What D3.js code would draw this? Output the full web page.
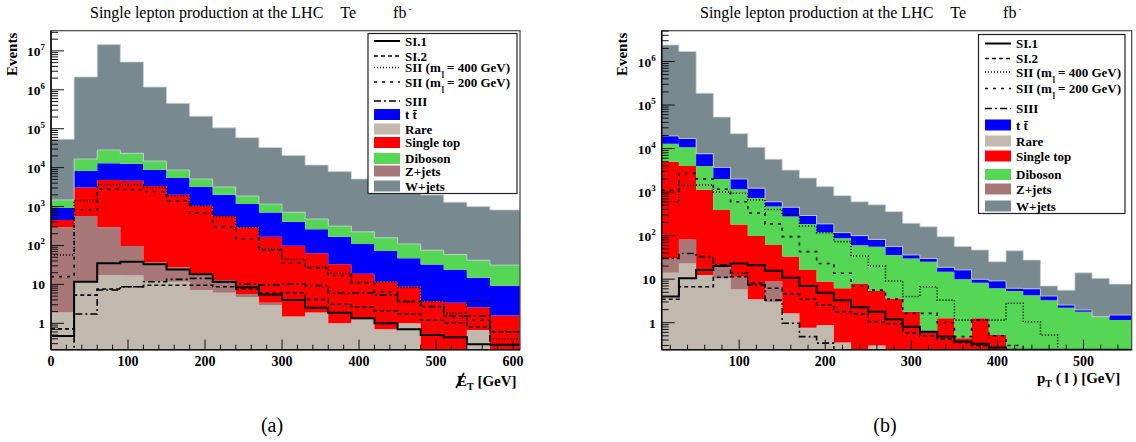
<!DOCTYPE html>
<html><head><meta charset="utf-8">
<script src="https://cdn.jsdelivr.net/npm/d3@7"></script>
<style>
body{margin:0;background:#fff}
svg{display:block}
text{font-family:"Liberation Serif","DejaVu Serif",serif;fill:#000}
</style></head>
<body><svg id="c" width="1136" height="442"></svg>
<script>
// ---------------- DATA ----------------
const titleText = "Single lepton production at the LHC";
const processKeys = ["ttbar","rare","singletop","diboson","zjets","wjets"];
const processLabels = ["t t\u0304","Rare","Single top","Diboson","Z+jets","W+jets"];
const signalKeys = ["SI1","SI2","SII400","SII200","SIII"];

// Panel (a): missing transverse energy
const metEdges = [0,30,60,90,120,150,180,210,240,270,300,330,360,390,420,450,480,510,540,570,609];
const metTicks = [0,100,200,300,400,500,600];
const metRare      = [1.9,11.7,17.5,17,11.7,11.7,7.2,6.1,4.7,2.9,1.5,1.9,1.0,1.27,0.7,1.0,0,0,0.67,0];
const metZjets     = [293,563,278,80,26,16,11.3,6.9,1.0,0.5,0,0,0,0,0,0,0,0,0,0];
const metSingleTop = [155,2525,4505,4503,3362,1973,1031,562,289,165,97.5,61,32,17.5,11,7.7,3.7,3.4,1.9,1.6];
const metTtbar     = [470,5100,8100,7900,5300,3400,2150,1425,875,537,311,197,135,91,60,38,29,20,12.3,7.7];
const metDiboson   = [560,8500,15600,10900,6100,3300,1900,1200,700,455,305,220,147,114,87,63,43,35,27,22];
const metWjets     = [52500,2130000,14470000,5180000,1165000,441000,205000,102000,57000,31800,19700,11200,7600,4900,3440,2490,1920,1240,958,790];
const metSI1    = [0.47,11.7,35,38,33,24,18.2,11.7,8.4,5.5,4.0,2.5,1.87,1.34,1.0,0.70,0.50,0.44,0.29,0.28];
const metSI2    = [0.72,5.3,7.6,8.7,9.5,9.5,9.5,8.7,7.6,5.9,6.1,4.1,3.1,2.6,2.1,1.73,1.2,1.03,0.82,0.61];
const metSII400 = [57,1420,3600,3600,3100,1900,1050,550,295,82,44,28.5,19.2,11.7,11.7,8.4,3.7,1.8,3.7,0.4];
const metSII200 = [15.8,815,2800,2700,2400,1400,680,300,147,76,35,26,16.7,10.7,6.5,3.6,2.7,1.5,1.2,0.6];
const metSIII   = [0,1.73,7.2,8.7,11.7,13.5,14.3,11.7,10.2,9.6,10.2,9.3,5.9,6.1,5.3,3.6,2.7,1.54,1.54,0.28];

// Panel (b): lepton pT
const ptEdges = [10,30,50,70,90,110,130,150,170,190,210,230,250,270,290,310,330,350,370,390,410,430,450,470,490,510,530,556];
const ptTicks = [100,200,300,400,500];
const ptRare      = [14,23,12.5,10.5,5.8,3.45,3.0,1.64,0.77,0.89,0.35,0,0.3,0,0,0,0,0,0,0,0,0,0,0,0,0,0];
const ptZjets     = [16,59,0,10.5,5.6,0,5.8,0,0,0,0,0,0,0,0,0,0,0,0,0,0,0,0,0,0,0,0];
const ptSingleTop = [4970,3918,1117,369,169,94.5,52,31.4,15.5,7.9,5.85,8.0,5.05,3.6,1.79,0.62,1.26,0.44,1.26,0.52,0,0,0,0,0,0,0];
const ptDiboson   = [7900,6700,2870,1610,980,632,404,242,170,111,81,52,50.6,32.4,28.2,24.4,13.6,9.56,7.0,5.7,5.35,4.3,3.3,2.2,1.79,1.37,1.15];
const ptTtbar     = [6600,6300,3600,1700,840,500,135,175,104,66,30,40,26,20,6,5,3.9,6.3,1.7,2.9,0.85,1.7,0.8,0.35,0.17,0,0.35];
const ptWjets     = [2380000,1683000,179400,49300,20000,9470,5100,2750,1810,1154,713,500,428,299,157,130,76,40,37,16,38.8,21.6,2.9,3.05,12,9.1,6.2];
const ptSI1    = [4.0,10.5,16.3,20,23,21,15.7,10.8,7.0,4.9,3.3,2.26,1.79,1.2,0.81,0.62,0.48,0.37,0.33,0.27,0,0,0,0,0,0,0];
const ptSI2    = [3.45,6.7,6.7,11.0,11.4,8.0,6.2,4.6,3.45,2.55,1.79,1.6,1.05,0.95,0.59,0.5,0.42,0.35,0.3,0,0,0,0,0,0,0,0];
const ptSII400 = [600,1450,1450,1000,940,660,400,300,166,117,73,34,20,9.1,4.0,6.7,3.3,1.15,1.15,1.15,2.8,1.05,0.52,0,0,0,0];
const ptSII200 = [1100,2700,2000,1160,600,330,186,95,43,23,13.7,7.0,5.6,3.5,1.64,1.64,1.0,0.48,1.15,0.5,0.3,0,0,0,0,0,0];
const ptSIII   = [30,39,33,21,13.7,7.4,3.3,0.97,0.48,0.34,0,0,0,0,0,0,0,0,0,0,0,0,0,0,0,0,0];

// ---------------- STYLE ----------------
const fillColor = {ttbar:"#0000ff",rare:"#c1b8ae",singletop:"#ff0000",diboson:"#55d655",zjets:"#a87878",wjets:"#788a90"};
const lineStyle = {
  SI1:{w:2,dash:null}, SI2:{w:1.6,dash:"4,3"}, SII400:{w:1.6,dash:"1,2"},
  SII200:{w:1.6,dash:"3,5"}, SIII:{w:1.6,dash:"7,3,2,3"}
};
const svg = d3.select("#c");

function supLabel(g, x, y, base, exp) {
  const t = g.append("text").attr("x", x).attr("y", y).attr("text-anchor", "end")
    .attr("font-weight","bold").attr("font-size",13.5);
  t.append("tspan").text(base);
  if (exp) t.append("tspan").attr("dy",-6).attr("font-size",9).text(exp);
}

function drawPanel(cfg) {
  const g = svg.append("g");
  const x = d3.scaleLinear().domain(cfg.xDomain).range([cfg.L, cfg.R]);
  const y = d3.scaleLog().domain(cfg.yDomain).range([cfg.B, cfg.T]).clamp(true);
  const lo = cfg.yDomain[0];
  const nb = cfg.edges.length - 1;
  const clipId = "clip" + cfg.id;
  svg.append("clipPath").attr("id", clipId).append("rect")
    .attr("x", cfg.L).attr("y", cfg.T).attr("width", cfg.R - cfg.L).attr("height", cfg.B - cfg.T);
  const plot = g.append("g").attr("clip-path", `url(#${clipId})`);

  // stacked backgrounds
  const rows = d3.range(nb).map(i => {
    const o = {i};
    cfg.order.forEach(k => o[k] = cfg.bg[k][i]);
    return o;
  });
  const layers = d3.stack().keys(cfg.order)(rows);
  const area = d3.area().x(p => x(p.x)).y0(p => y(Math.max(p.y0, lo))).y1(p => y(Math.max(p.y1, lo)));
  layers.forEach(layer => {
    const pts = [];
    layer.forEach(d => {
      pts.push({x: cfg.edges[d.data.i], y0: d[0], y1: d[1]});
      pts.push({x: cfg.edges[d.data.i + 1], y0: d[0], y1: d[1]});
    });
    plot.append("path").attr("d", area(pts)).attr("fill", fillColor[layer.key])
      .attr("stroke", layer.key === "wjets" ? "#c9d2d6" : "none").attr("stroke-width", 0.8);
  });

  // signal lines
  const line = d3.line().x(p => x(p.x)).y(p => y(Math.max(p.v, lo * 0.5)));
  signalKeys.forEach(k => {
    const vals = cfg.sig[k];
    const pts = [];
    vals.forEach((v, i) => { pts.push({x: cfg.edges[i], v}); pts.push({x: cfg.edges[i + 1], v}); });
    plot.append("path").attr("d", line(pts)).attr("fill", "none").attr("stroke", "#000")
      .attr("stroke-width", lineStyle[k].w).attr("stroke-dasharray", lineStyle[k].dash);
  });

  // frame
  g.append("rect").attr("x", cfg.L).attr("y", cfg.T).attr("width", cfg.R - cfg.L).attr("height", cfg.B - cfg.T)
    .attr("fill", "none").attr("stroke", "#444").attr("stroke-width", 1.2);
  g.append("line").attr("x1", cfg.L).attr("x2", cfg.L).attr("y1", cfg.T).attr("y2", cfg.B).attr("stroke", "#111").attr("stroke-width", 1.6);
  g.append("line").attr("x1", cfg.L).attr("x2", cfg.R).attr("y1", cfg.B).attr("y2", cfg.B).attr("stroke", "#111").attr("stroke-width", 1.6);

  // y ticks (log)
  const dmin = Math.floor(Math.log10(cfg.yDomain[0])), dmax = Math.ceil(Math.log10(cfg.yDomain[1]));
  for (let e = dmin; e <= dmax; e++) {
    for (let m = 1; m <= 9; m++) {
      const v = m * Math.pow(10, e);
      if (v < cfg.yDomain[0] || v > cfg.yDomain[1]) continue;
      const yy = y(v);
      g.append("line").attr("x1", cfg.L).attr("x2", cfg.L + (m === 1 ? 13 : 7)).attr("y1", yy).attr("y2", yy)
        .attr("stroke", "#111").attr("stroke-width", 1);
      if (m === 1) {
        if (e === 0) supLabel(g, cfg.L - 6, yy + 5, "1", null);
        else if (e === 1) supLabel(g, cfg.L - 6, yy + 5, "10", null);
        else supLabel(g, cfg.L - 6, yy + 5, "10", String(e));
      }
    }
  }
  // x ticks
  const xs = d3.range(Math.ceil(cfg.xDomain[0] / 20) * 20, cfg.xDomain[1] + 0.1, 20);
  xs.forEach(v => {
    const major = v % 100 === 0;
    const xx = x(v);
    g.append("line").attr("x1", xx).attr("x2", xx).attr("y1", cfg.B).attr("y2", cfg.B - (major ? 10 : 5))
      .attr("stroke", "#111").attr("stroke-width", 1);
  });
  cfg.ticks.forEach(v => {
    g.append("text").attr("x", x(v)).attr("y", cfg.B + 16).attr("text-anchor", "middle")
      .attr("font-weight", "bold").attr("font-size", 14).text(v);
  });

  // y label
  g.append("text").attr("transform", `translate(${cfg.yLabX},${cfg.T + 2}) rotate(-90)`)
    .attr("text-anchor", "end").attr("font-weight", "bold").attr("font-size", 15).text("Events");

  // title
  const tt = g.append("text").attr("x", cfg.titleX).attr("y", 18).attr("font-size", 16);
  tt.append("tspan").text(titleText);
  tt.append("tspan").attr("dx", 17).text("Te");
  tt.append("tspan").attr("dx", 37).text("fb");
  tt.append("tspan").attr("dy", -6).attr("dx", 2).attr("font-size", 9).text("-");

  // legend
  const lg = cfg.legend;
  g.append("rect").attr("x", lg.x0).attr("y", lg.y0).attr("width", lg.x1 - lg.x0).attr("height", lg.y1 - lg.y0)
    .attr("fill", "#fff").attr("stroke", "#222").attr("stroke-width", 1.2);
  const sigLabels = [
    {k:"SI1", main:"SI.1"},
    {k:"SI2", main:"SI.2"},
    {k:"SII400", main:"SII (m", rest:"= 400 GeV)"},
    {k:"SII200", main:"SII (m", rest:"= 200 GeV)"},
    {k:"SIII", main:"SIII"}
  ];
  sigLabels.forEach((s, i) => {
    const yy = lg.rows[i];
    g.append("line").attr("x1", lg.sx0).attr("x2", lg.sx1).attr("y1", yy).attr("y2", yy)
      .attr("stroke", "#000").attr("stroke-width", lineStyle[s.k].w).attr("stroke-dasharray", lineStyle[s.k].dash);
    const t = g.append("text").attr("x", lg.tx).attr("y", yy + 4.5).attr("font-weight", "bold").attr("font-size", 13);
    t.append("tspan").text(s.main);
    if (s.rest) {
      t.append("tspan").attr("dx", 1).attr("dy", 6).attr("font-size", 8).text("l\u0304");
      t.append("tspan").attr("dx", 3).attr("dy", -6).text(s.rest);
    }
  });
  processKeys.forEach((k, i) => {
    const yy = lg.rows[5 + i];
    g.append("rect").attr("x", lg.sx0).attr("y", yy - 5.5).attr("width", lg.sx1 - lg.sx0).attr("height", 11)
      .attr("fill", fillColor[k]);
    g.append("text").attr("x", lg.tx).attr("y", yy + 4.5).attr("font-weight", "bold").attr("font-size", 13)
      .text(processLabels[i]);
  });
  return {x, y, g};
}

// Panel (a)
const pa = drawPanel({
  id: "a", L: 51, R: 520, T: 30.7, B: 349.7,
  xDomain: [0, 609], yDomain: [0.21, 3.3e7], edges: metEdges, ticks: metTicks,
  order: ["rare","zjets","singletop","ttbar","diboson","wjets"],
  bg: {rare: metRare, zjets: metZjets, singletop: metSingleTop, ttbar: metTtbar, diboson: metDiboson, wjets: metWjets},
  sig: {SI1: metSI1, SI2: metSI2, SII400: metSII400, SII200: metSII200, SIII: metSIII},
  yLabX: 17, titleX: 90,
  legend: {x0: 368, x1: 517, y0: 33.5, y1: 193.5, sx0: 374, sx1: 400, tx: 405,
    rows: [41, 56, 67.5, 82, 101, 114.5, 129, 142.5, 158.5, 171, 186]}
});
// x label (a): missing E_T
{
  const t = pa.g.append("text").attr("x", 457).attr("y", 386).attr("font-weight", "bold").attr("font-size", 15);
  t.append("tspan").text("E");
  t.append("tspan").attr("dy", 4).attr("font-size", 10).text("T");
  t.append("tspan").attr("dy", -4).text(" [GeV]");
  pa.g.append("line").attr("x1", 456).attr("x2", 464).attr("y1", 388).attr("y2", 373)
    .attr("stroke", "#000").attr("stroke-width", 1.6);
}

// Panel (b)
const pb = drawPanel({
  id: "b", L: 661.7, R: 1131.7, T: 30.7, B: 349.7,
  xDomain: [10, 556], yDomain: [0.24, 5.1e6], edges: ptEdges, ticks: ptTicks,
  order: ["rare","zjets","singletop","diboson","ttbar","wjets"],
  bg: {rare: ptRare, zjets: ptZjets, singletop: ptSingleTop, ttbar: ptTtbar, diboson: ptDiboson, wjets: ptWjets},
  sig: {SI1: ptSI1, SI2: ptSI2, SII400: ptSII400, SII200: ptSII200, SIII: ptSIII},
  yLabX: 627, titleX: 700,
  legend: {x0: 978.5, x1: 1125, y0: 34.5, y1: 213.5, sx0: 985, sx1: 1011, tx: 1016,
    rows: [43.5, 58.5, 72, 88.5, 108.5, 125, 141, 156, 174.5, 189, 206]}
});
{
  const t = pb.g.append("text").attr("x", 1037).attr("y", 383).attr("font-weight", "bold").attr("font-size", 15);
  t.append("tspan").text("p");
  t.append("tspan").attr("dy", 4).attr("font-size", 10).text("T");
  t.append("tspan").attr("dy", -4).text(" ( l ) [GeV]");
}

// captions
svg.append("text").attr("x", 272).attr("y", 432).attr("text-anchor", "middle").attr("font-size", 20).text("(a)");
svg.append("text").attr("x", 885).attr("y", 432).attr("text-anchor", "middle").attr("font-size", 20).text("(b)");
</script></body></html>
